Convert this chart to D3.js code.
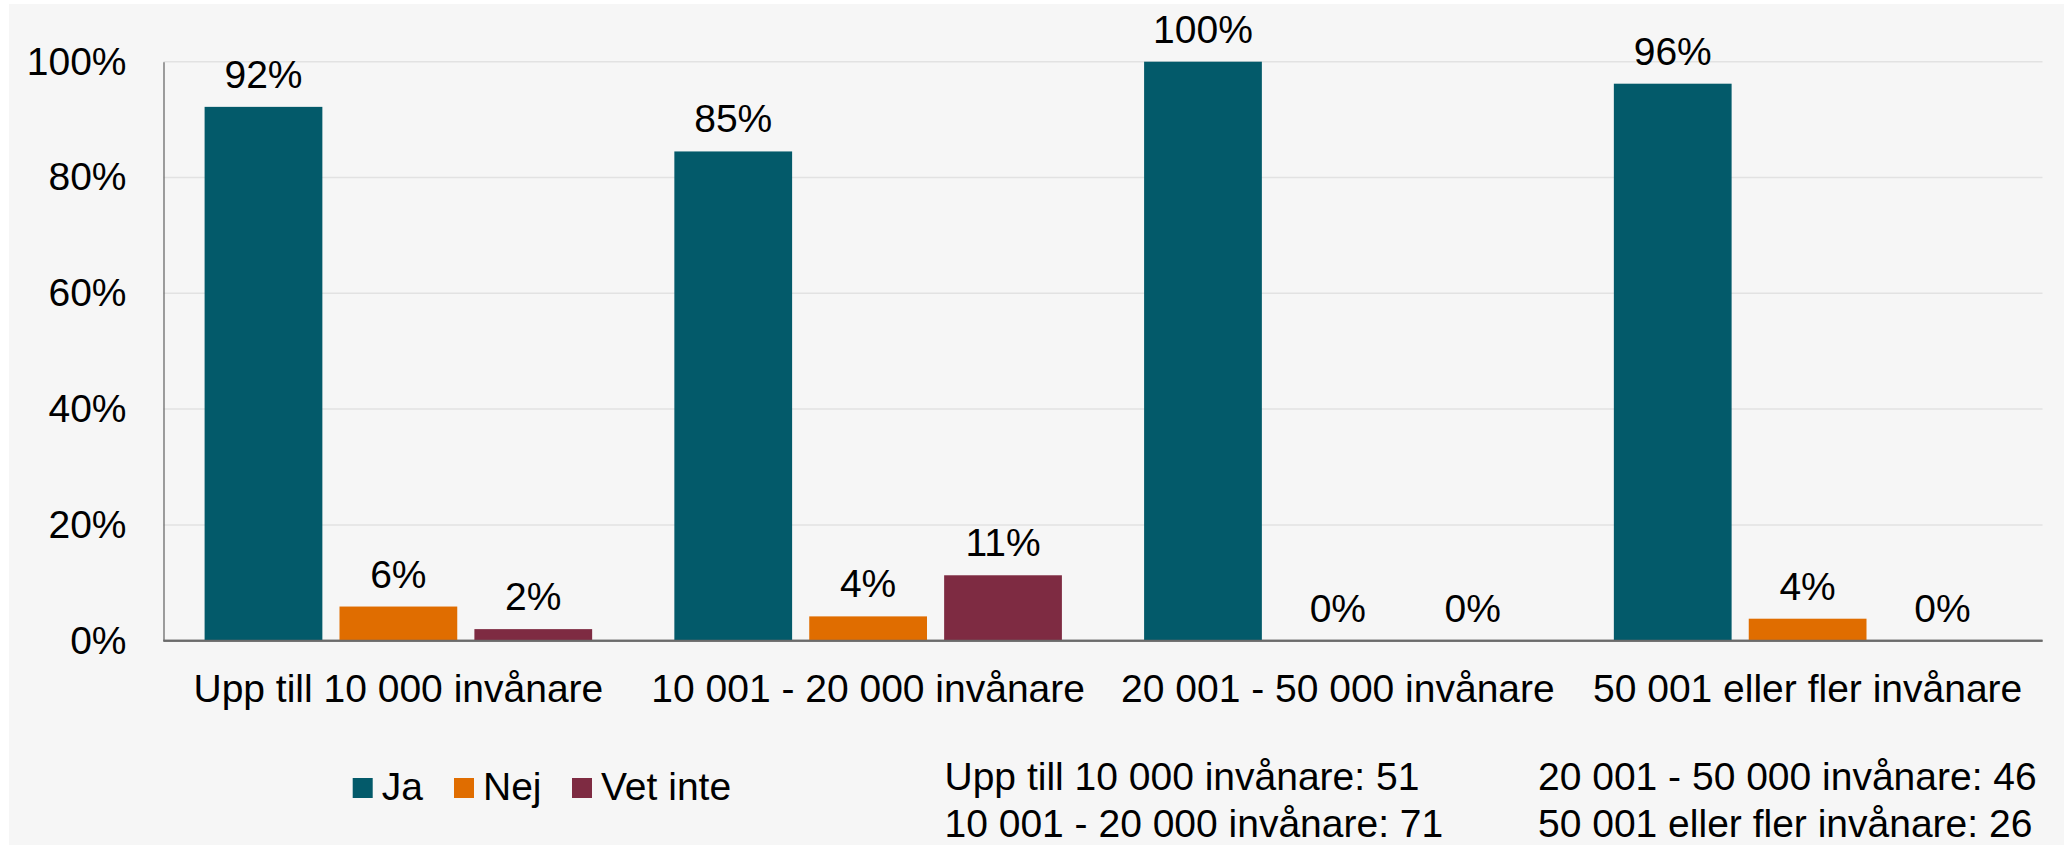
<!DOCTYPE html>
<html><head><meta charset="utf-8">
<script src="https://cdn.jsdelivr.net/npm/d3@7"></script>
<style>
html,body{margin:0;padding:0;background:#fff;}
text{font-family:"Liberation Sans",Arial,sans-serif;fill:#000;}
</style></head>
<body>
<svg id="chart" width="2064" height="846"></svg>
<script>
const categories = ["Upp till 10 000 invånare","10 001 - 20 000 invånare","20 001 - 50 000 invånare","50 001 eller fler invånare"];
const seriesNames = ["Ja","Nej","Vet inte"];
const ja = [92.2, 84.5, 100, 96.2];
const nej = [5.9, 4.2, 0, 3.8];
const vetInte = [2.0, 11.3, 0, 0];
const yTicks = [0, 20, 40, 60, 80, 100];
const colors = ["#035a6a", "#e06d00", "#7e2b42"];
const notes = [
  ["Upp till 10 000 invånare: 51", "10 001 - 20 000 invånare: 71"],
  ["20 001 - 50 000 invånare: 46", "50 001 eller fler invånare: 26"]
];

const W = 2064, H = 846;
const svg = d3.select("#chart");
svg.append("rect").attr("x", 9).attr("y", 4).attr("width", W - 9).attr("height", H - 5).attr("fill", "#f6f6f6");

const plot = {left: 163.5, right: 2042.5, top: 61.7, bottom: 640.7};
const fs = 39;

const x0 = d3.scaleBand().domain(categories).range([plot.left, plot.right]).paddingInner(0.175).paddingOuter(0.0875);
const x1 = d3.scaleBand().domain(seriesNames).range([0, x0.bandwidth()]).paddingInner(0.127);
const y = d3.scaleLinear().domain([0, 100]).range([plot.bottom, plot.top]);

// gridlines
svg.append("g").selectAll("line").data(yTicks.filter(t => t > 0)).join("line")
  .attr("x1", plot.left).attr("x2", plot.right)
  .attr("y1", d => y(d)).attr("y2", d => y(d))
  .attr("stroke", "#e2e2e2").attr("stroke-width", 1.5);

// y axis
const yAxis = d3.axisLeft(y).tickValues(yTicks).tickSize(0).tickPadding(37).tickFormat(d => d + "%");
const gy = svg.append("g").attr("transform", `translate(${plot.left},0)`).call(yAxis);
gy.select(".domain").attr("stroke", "#6b6b6b").attr("stroke-width", 1.3);
gy.selectAll("text").attr("font-size", fs).attr("font-family", "Liberation Sans, Arial, sans-serif").attr("fill", "#000");

// x axis
const xAxis = d3.axisBottom(x0).tickSize(0).tickPadding(34);
const gx = svg.append("g").attr("transform", `translate(0,${plot.bottom})`).call(xAxis);
gx.select(".domain").attr("stroke", "#6b6b6b").attr("stroke-width", 2).attr("d", `M${plot.left},0H${plot.right}`);
gx.selectAll("text").attr("font-size", fs).attr("font-family", "Liberation Sans, Arial, sans-serif").attr("fill", "#000");

const data = categories.map((c, i) => ({cat: c, vals: [ja[i], nej[i], vetInte[i]]}));
const groups = svg.append("g").selectAll("g").data(data).join("g")
  .attr("transform", d => `translate(${x0(d.cat)},0)`);

groups.selectAll("rect").data(d => d.vals.map((v, j) => ({s: seriesNames[j], v, j}))).join("rect")
  .attr("x", d => x1(d.s)).attr("width", x1.bandwidth())
  .attr("y", d => y(d.v)).attr("height", d => y(0) - y(d.v))
  .attr("fill", d => colors[d.j]);

groups.selectAll("text.lbl").data(d => d.vals.map((v, j) => ({s: seriesNames[j], v, j}))).join("text")
  .attr("class", "lbl")
  .attr("x", d => x1(d.s) + x1.bandwidth() / 2)
  .attr("y", d => y(d.v) - 19)
  .attr("text-anchor", "middle").attr("font-size", fs)
  .text(d => Math.round(d.v) + "%");

// re-draw baseline over bars
svg.append("line").attr("x1", plot.left).attr("x2", plot.right).attr("y1", plot.bottom).attr("y2", plot.bottom)
  .attr("stroke", "#6b6b6b").attr("stroke-width", 2);

// legend
const legendX = [352.7, 454, 572];
const lg = svg.append("g").selectAll("g").data(seriesNames).join("g")
  .attr("transform", (d, i) => `translate(${legendX[i]},778)`);
lg.append("rect").attr("width", 20).attr("height", 20).attr("fill", (d, i) => colors[i]);
lg.append("text").attr("x", 29).attr("y", 22).attr("font-size", fs).text(d => d);

// notes
const noteX = [944.5, 1538];
const noteY = [790, 836.5];
notes.forEach((col, ci) => col.forEach((t, ri) => {
  svg.append("text").attr("x", noteX[ci]).attr("y", noteY[ri]).attr("font-size", fs).text(t);
}));
</script>
</body></html>
